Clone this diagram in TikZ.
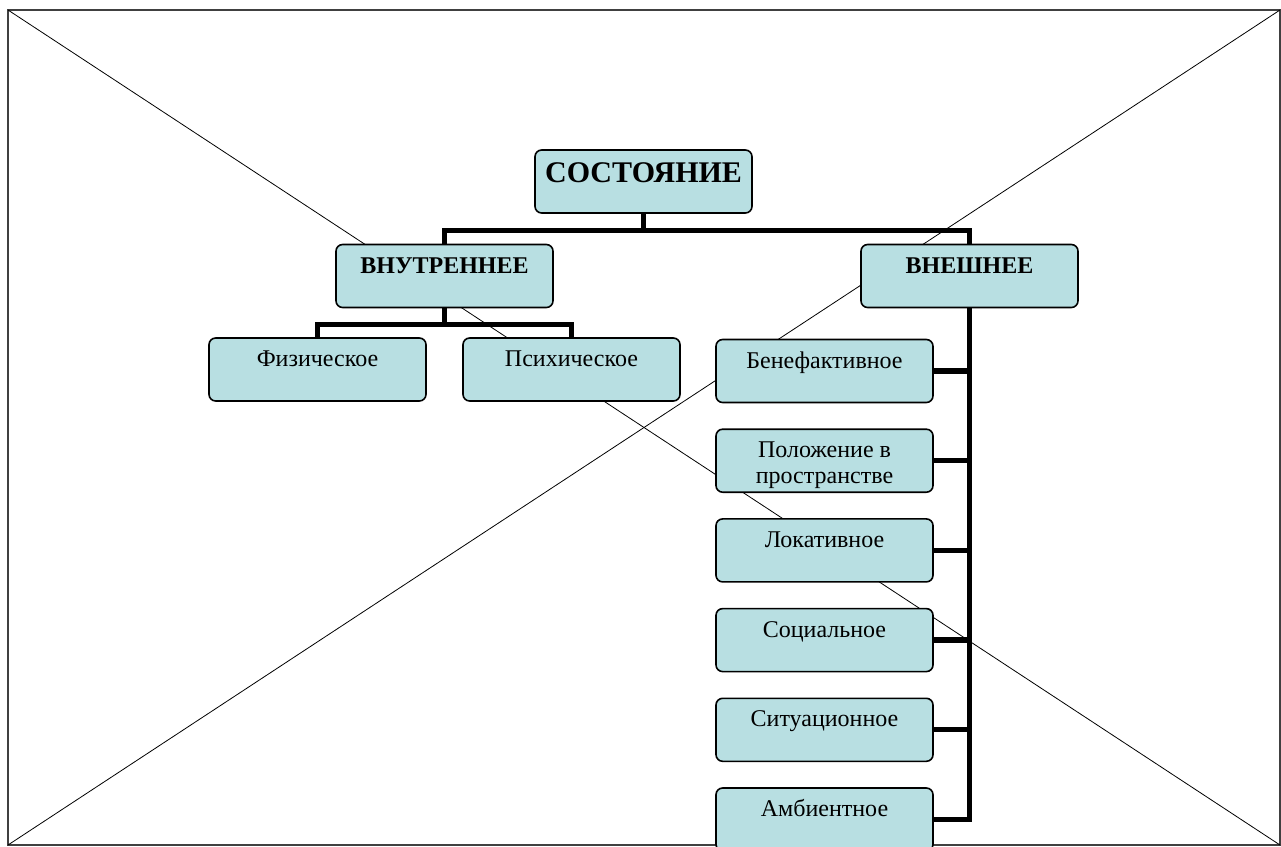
\documentclass[tikz,border=0pt]{standalone}
\usepackage{fontspec}
\setmainfont{Liberation Serif}
\usepackage{xcolor}

\begin{document}
\begin{tikzpicture}[x=0.75pt,y=-0.75pt,
  statebox/.style={rectangle,draw,line width=1.2pt,rounded corners=5pt,fill=stateblue,
    minimum width=162.75pt,inner sep=0pt,text height=21.5pt,text depth=25.75pt,
    font=\fontsize{18}{19.5}\selectfont},
  headbox/.style={statebox,text height=24pt,text depth=23.25pt,
    font=\bfseries\fontsize{22.5}{25}\selectfont},
  kindbox/.style={statebox,font=\bfseries\fontsize{18}{19.5}\selectfont},
  branch/.style={line width=4pt}]
\definecolor{stateblue}{HTML}{B8DFE2}
\useasboundingbox (0,0) rectangle (1281,846);
% frame with the cross
\coordinate (nw) at (8,10);
\coordinate (ne) at (1280,10);
\coordinate (sw) at (8,845);
\coordinate (se) at (1280,845);
\draw[line width=0.8pt,black!75] (nw) rectangle (se);
\draw[line width=0.6pt] (nw) -- (se);
\draw[line width=0.6pt] (sw) -- (ne);
% boxes
\node [headbox] (state) at (643.5,181.5) {СОСТОЯНИЕ};
\node [kindbox] (inner) at (444.5,276) {ВНУТРЕННЕЕ};
\node [kindbox] (outer) at (969.5,276) {ВНЕШНЕЕ};
\node [statebox] (phys) at (317.5,369.5) {Физическое};
\node [statebox] (psych) at (571.5,369.5) {Психическое};
\foreach \nm/\txt/\pos in {ben/Бенефактивное/0,
    place/{\begin{tabular}[t]{@{}c@{}}Положение в\\пространстве\end{tabular}}/1,
    loc/Локативное/2,soc/Социальное/3,sit/Ситуационное/4,amb/Амбиентное/5}
  {  \node [statebox] (\nm) at (824.5,371+89.7*\pos) {\txt};}
% tree lines
\draw[branch] (state.south) -- +(0,17) -| (inner.north);
\draw[branch] (state.south) -- +(0,17) -| (outer.north);
\draw[branch] (inner.south) -- +(0,16) -| (phys.north);
\draw[branch] (inner.south) -- +(0,16) -| (psych.north);
\draw[branch] (outer.south) |- (amb.east);
\foreach \nm in {ben,place,loc,soc,sit}
  {  \draw[branch] (\nm.east) -- (\nm.east -| outer.south);}
\end{tikzpicture}
\end{document}
